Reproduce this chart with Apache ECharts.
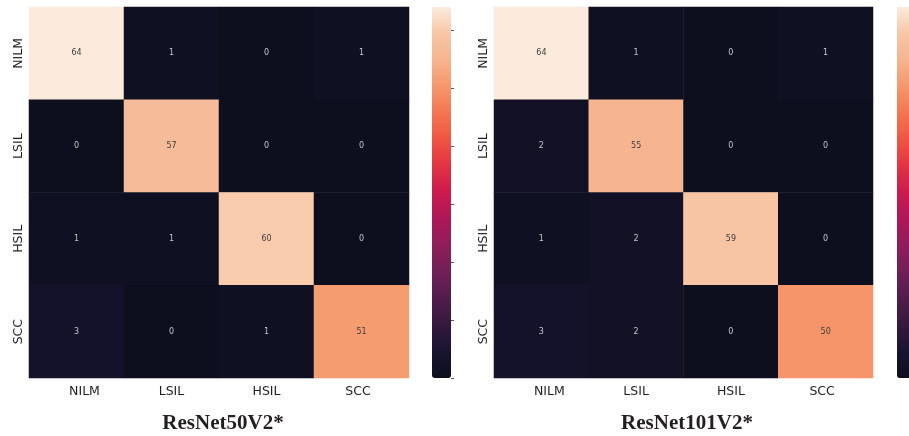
<!DOCTYPE html>
<html>
<head>
<meta charset="utf-8">
<script src="https://cdn.jsdelivr.net/npm/echarts@6/dist/echarts.min.js"></script>
<style>html,body{margin:0;padding:0;background:#fff}#c{width:909px;height:436px}</style>
</head>
<body>
<div id="c"></div>
<script>
// ---- data ----
const classes = ['NILM', 'LSIL', 'HSIL', 'SCC'];
const titles = ['ResNet50V2*', 'ResNet101V2*'];
// rows = true label (NILM..SCC), columns = predicted label
const matrix50 = [
  [64, 1, 0, 1],
  [0, 57, 0, 0],
  [1, 1, 60, 0],
  [3, 0, 1, 51]
];
const matrix101 = [
  [64, 1, 0, 1],
  [2, 55, 0, 0],
  [1, 2, 59, 0],
  [3, 2, 0, 50]
];
const colorMin = 0, colorMax = 64, colorTickStep = 10;
const colorTicks = [0, 10, 20, 30, 40, 50, 60];
// seaborn "rocket"-like ramp, evenly spaced stops
const rocket = ['#0d0f1e', '#181430', '#35193e', '#521c4c', '#701f57', '#8f1d5a', '#ad1759', '#cb1b4f',
  '#e13342', '#ef5543', '#f37651', '#f5976b', '#f6b48f', '#f7c6a6', '#fcebdd'];

// ---- build ----
function toData(m) {
  const out = [];
  m.forEach((row, r) => row.forEach((v, c) => {
    out.push({ value: [c, r, v], label: { color: v > colorMax / 2 ? '#3c3c3c' : '#c4c4cc' } });
  }));
  return out;
}
const panels = [
  { m: matrix50, gl: 29, gw: 380, cb: 432, title: titles[0], tx: 218 },
  { m: matrix101, gl: 494, gw: 379, cb: 897, title: titles[1], tx: 682 }
];
const gTop = 7, gH = 371, cbw = 19;
const lblFont = { fontFamily: 'DejaVu Sans', fontSize: 12.5, color: '#1e1e1e' };
const grid = [], xAxis = [], yAxis = [], series = [], visualMap = [], title = [], extra = [];
panels.forEach((p, i) => {
  grid.push({ left: p.gl, top: gTop, width: p.gw, height: gH });
  grid.push({ left: p.cb, top: gTop, width: cbw, height: gH });
  xAxis.push({
    type: 'category', data: classes, gridIndex: 2 * i,
    axisLine: { show: false }, axisTick: { show: false }, splitLine: { show: false },
    axisLabel: Object.assign({}, lblFont, {
      margin: 7,
      formatter: (v) => v === 'NILM' ? '{a|' + v + '}' : (v === 'SCC' ? '{b|' + v + '}' : v),
      rich: {
        a: Object.assign({}, lblFont, { padding: [0, 0, 0, 16] }),
        b: Object.assign({}, lblFont, { padding: [0, 7, 0, 0] })
      }
    })
  });
  yAxis.push({
    type: 'category', data: classes, gridIndex: 2 * i, inverse: true,
    axisLine: { show: false }, axisTick: { show: false }, splitLine: { show: false },
    axisLabel: Object.assign({}, lblFont, { rotate: 90, margin: 4 })
  });
  xAxis.push({ type: 'value', gridIndex: 2 * i + 1, min: 0, max: 1, show: false });
  yAxis.push({
    type: 'value', gridIndex: 2 * i + 1, min: colorMin, max: colorMax, interval: colorTickStep,
    position: 'right', z: 10, axisLine: { show: false, onZero: false }, axisLabel: { show: false }, splitLine: { show: false },
    axisTick: { show: true, length: 3, customValues: colorTicks, lineStyle: { color: '#555', width: 1 } }
  });
  series.push({
    type: 'heatmap', xAxisIndex: 2 * i, yAxisIndex: 2 * i, data: toData(p.m),
    label: { show: true, fontFamily: 'DejaVu Sans', fontSize: 8, formatter: d => d.value[2] },
    itemStyle: { borderWidth: 0 }
  });
  extra.push({ type: 'scatter', xAxisIndex: 2 * i + 1, yAxisIndex: 2 * i + 1, data: [], silent: true });
  visualMap.push({
    type: 'continuous', min: colorMin, max: colorMax, seriesIndex: i, dimension: 2,
    orient: 'vertical', left: p.cb, top: gTop, itemWidth: cbw, itemHeight: gH, padding: 0,
    calculable: false, hoverLink: false, realtime: false, text: null,
    inRange: { color: rocket }
  });
  title.push({
    text: p.title, left: p.tx, top: 408, textAlign: 'center',
    textStyle: { fontFamily: 'Liberation Serif', fontWeight: 'bold', fontSize: 21, color: '#231f20' }
  });
});
const chart = echarts.init(document.getElementById('c'), null, { renderer: 'canvas' });
chart.setOption({
  animation: false, backgroundColor: '#fff',
  title, grid, xAxis, yAxis, series: series.concat(extra), visualMap
});
</script>
</body>
</html>
